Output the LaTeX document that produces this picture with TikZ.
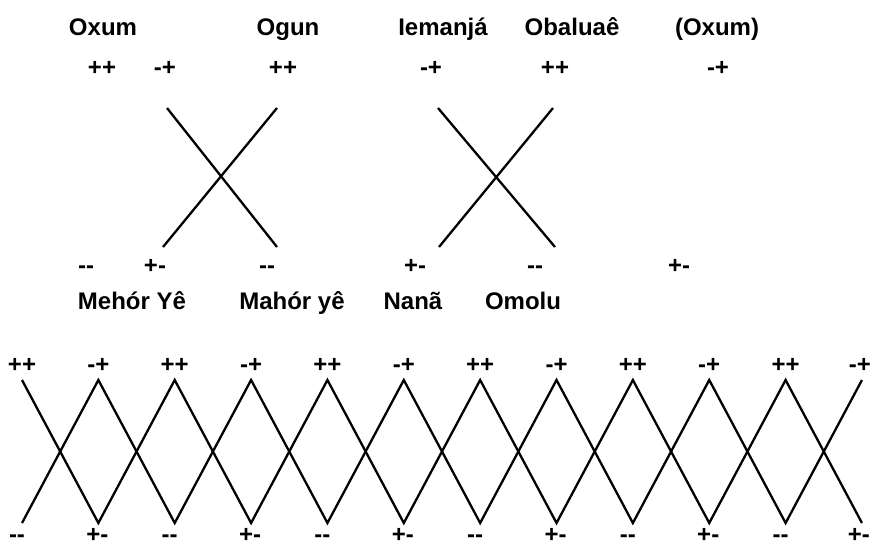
\documentclass[tikz,border=0pt]{standalone}
\usepackage{fontspec}
\newfontfamily\diagfont{Liberation Sans}
\begin{document}
\begin{tikzpicture}[x=1pt, y=-1pt, line width=2.3pt,
    every node/.style={font=\diagfont\bfseries\fontsize{24}{28}\selectfont, inner sep=0pt, anchor=base}]
  \useasboundingbox (0,0) rectangle (872,546);

  % --- nomi in alto ---
  \node (oxum)    at (103,35) {Oxum};
  \node (ogun)    at (288,35) {Ogun};
  \node (iemanja) at (443,35) {Iemanjá};
  \node (obaluae) at (572,35) {Obaluaê};
  \node (oxumb)   at (717,35) {(Oxum)};

  % segni in alto
  \node (sa1) at (102,75) {++};
  \node (sa2) at (165,75) {-+};
  \node (sa3) at (283,75) {++};
  \node (sa4) at (431,75) {-+};
  \node (sa5) at (555,75) {++};
  \node (sa6) at (718,75) {-+};

  % --- le due croci ---
  \coordinate (xa1) at (167,108); \coordinate (xb1) at (277,108);
  \coordinate (xc1) at (163,247); \coordinate (xd1) at (277,247);
  \draw (xa1) -- (xd1);
  \draw (xb1) -- (xc1);

  \coordinate (xa2) at (438,108); \coordinate (xb2) at (553,108);
  \coordinate (xc2) at (439,247); \coordinate (xd2) at (555,247);
  \draw (xa2) -- (xd2);
  \draw (xb2) -- (xc2);

  % segni in basso
  \node (sb1) at (86,273)  {-\kern0pt-};
  \node (sb2) at (155,273) {+-};
  \node (sb3) at (267,273) {-\kern0pt-};
  \node (sb4) at (415,273) {+-};
  \node (sb5) at (535,273) {-\kern0pt-};
  \node (sb6) at (679,273) {+-};

  % nomi in basso
  \node (mehor) at (132,309) {Mehór Yê};
  \node (mahor) at (292,309) {Mahór yê};
  \node (nana)  at (413,309) {Nanã};
  \node (omolu) at (523,309) {Omolu};

  % --- zig-zag in basso ---
  \foreach \i in {0,...,11} {
    \coordinate (t\i) at ({22+76.36*\i},380);
    \coordinate (b\i) at ({22+76.36*\i},523);
  }
  \draw (t0) -- (b1) -- (t2) -- (b3) -- (t4) -- (b5) -- (t6) -- (b7) -- (t8) -- (b9) -- (t10) -- (b11);
  \draw (b0) -- (t1) -- (b2) -- (t3) -- (b4) -- (t5) -- (b6) -- (t7) -- (b8) -- (t9) -- (b10) -- (t11);

  % segni dello zig-zag
  \foreach \i in {0,2,...,10} {
    \node (pp\i) at ([yshift=8pt]t\i) {++};
    \node (mm\i) at ([xshift=-5pt, yshift=-19pt]b\i) {-\kern0pt-};
  }
  \foreach \i in {1,3,...,10} {
    \node (mp\i) at ([yshift=8pt]t\i) {-+};
    \node (pm\i) at ([xshift=-1pt, yshift=-19pt]b\i) {+-};
  }
  \node (mp11) at ([xshift=-2pt, yshift=8pt]t11) {-+};
  \node (pm11) at ([xshift=-3pt, yshift=-19pt]b11) {+-};

\end{tikzpicture}
\end{document}
